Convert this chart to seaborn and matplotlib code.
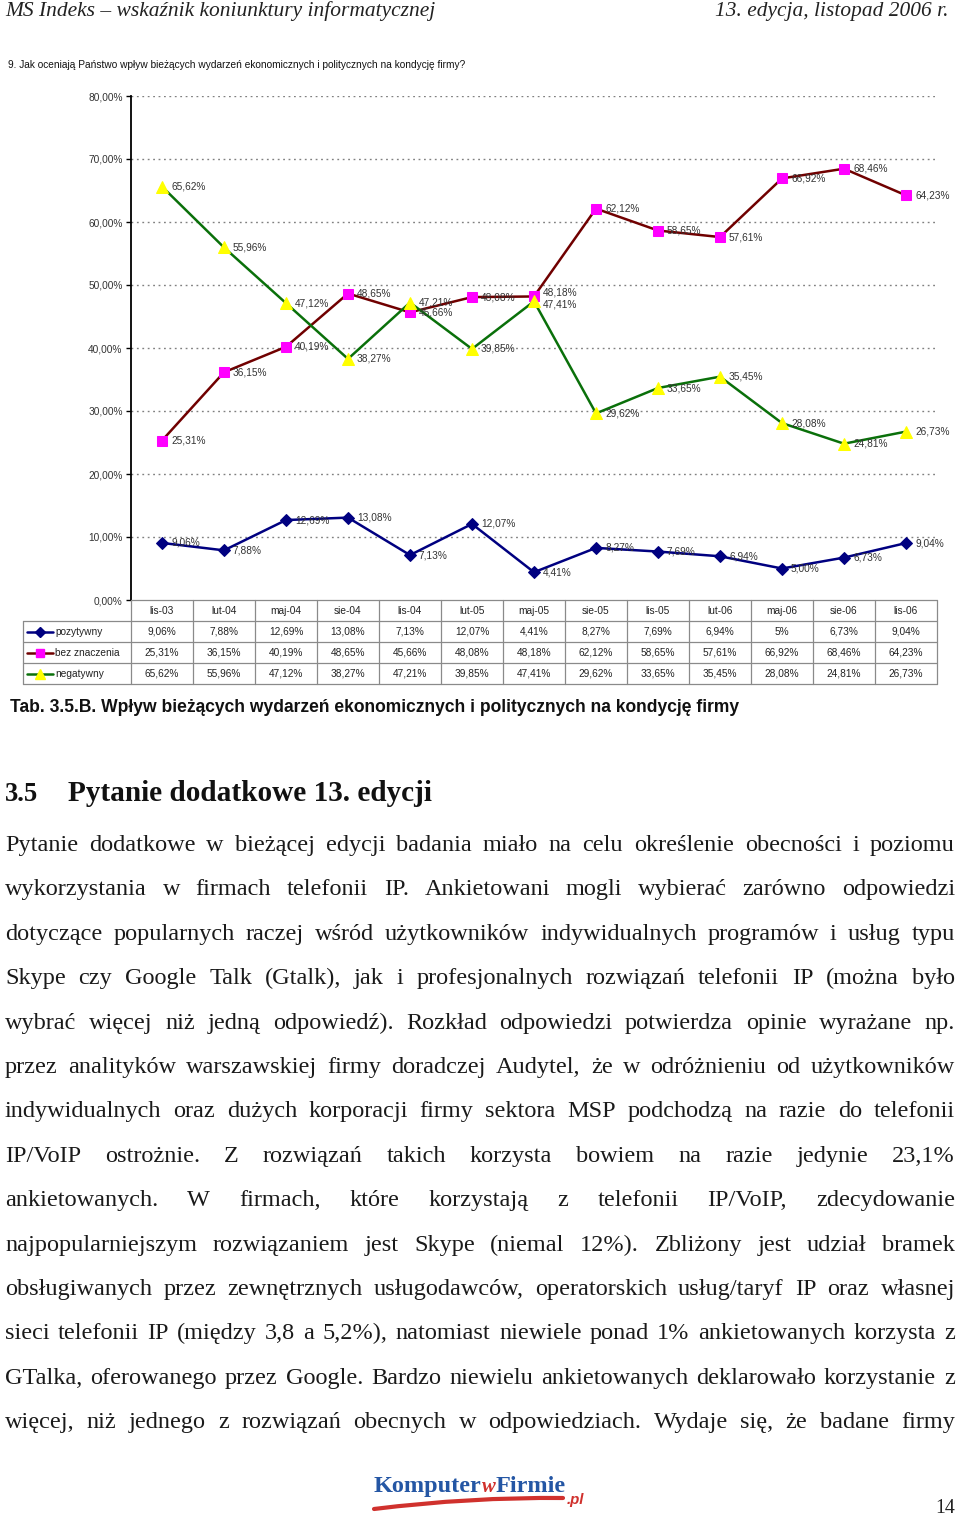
import matplotlib
matplotlib.use('Agg')
import matplotlib.pyplot as plt
import seaborn as sns
import numpy as np
import pandas as pd
from matplotlib.ticker import FixedLocator, FuncFormatter
from matplotlib.path import Path
from matplotlib.patches import PathPatch

# ---------------- data ----------------
categories = ['lis-03', 'lut-04', 'maj-04', 'sie-04', 'lis-04', 'lut-05', 'maj-05',
              'sie-05', 'lis-05', 'lut-06', 'maj-06', 'sie-06', 'lis-06']
pozytywny = [9.06, 7.88, 12.69, 13.08, 7.13, 12.07, 4.41, 8.27, 7.69, 6.94, 5.00, 6.73, 9.04]
bez_znaczenia = [25.31, 36.15, 40.19, 48.65, 45.66, 48.08, 48.18, 62.12, 58.65, 57.61, 66.92, 68.46, 64.23]
negatywny = [65.62, 55.96, 47.12, 38.27, 47.21, 39.85, 47.41, 29.62, 33.65, 35.45, 28.08, 24.81, 26.73]
series_names = ['pozytywny', 'bez znaczenia', 'negatywny']
y_ticks = [0, 10, 20, 30, 40, 50, 60, 70, 80]

header_left = 'MS Indeks – wskaźnik koniunktury informatycznej'
header_right = '13. edycja, listopad 2006 r.'
question = '9. Jak oceniają Państwo wpływ bieżących wydarzeń ekonomicznych i politycznych na kondycję firmy?'
caption = 'Tab. 3.5.B. Wpływ bieżących wydarzeń ekonomicznych i politycznych na kondycję firmy'
heading_num = '3.5'
heading_text = 'Pytanie dodatkowe 13. edycji'
body_lines = [
    'Pytanie dodatkowe w bieżącej edycji badania miało na celu określenie obecności i poziomu',
    'wykorzystania w firmach telefonii IP. Ankietowani mogli wybierać zarówno odpowiedzi',
    'dotyczące popularnych raczej wśród użytkowników indywidualnych programów i usług typu',
    'Skype czy Google Talk (Gtalk), jak i profesjonalnych rozwiązań telefonii IP (można było',
    'wybrać więcej niż jedną odpowiedź). Rozkład odpowiedzi potwierdza opinie wyrażane np.',
    'przez analityków warszawskiej firmy doradczej Audytel, że w odróżnieniu od użytkowników',
    'indywidualnych oraz dużych korporacji firmy sektora MSP podchodzą na razie do telefonii',
    'IP/VoIP ostrożnie. Z rozwiązań takich korzysta bowiem na razie jedynie 23,1%',
    'ankietowanych. W firmach, które korzystają z telefonii IP/VoIP, zdecydowanie',
    'najpopularniejszym rozwiązaniem jest Skype (niemal 12%). Zbliżony jest udział bramek',
    'obsługiwanych przez zewnętrznych usługodawców, operatorskich usług/taryf IP oraz własnej',
    'sieci telefonii IP (między 3,8 a 5,2%), natomiast niewiele ponad 1% ankietowanych korzysta z',
    'GTalka, oferowanego przez Google. Bardzo niewielu ankietowanych deklarowało korzystanie z',
    'więcej, niż jednego z rozwiązań obecnych w odpowiedziach. Wydaje się, że badane firmy',
]
logo_parts = ['Komputer', 'w', 'Firmie', '.pl']
page_number = '14'

# ---------------- setup ----------------
sns.set_theme(style='white')
plt.rcParams['font.family'] = ['Liberation Sans', 'DejaVu Sans']

W, H = 960, 1521
fig = plt.figure(figsize=(9.6, 15.21), dpi=100)
fig.patch.set_facecolor('white')
r = fig.canvas.get_renderer()


def fx(x):
    return x / W


def fy(y):
    return 1 - y / H


def fit_text(x0, x1, y, s, va='center', **kw):
    t = fig.text(fx(x0), fy(y), s, va=va, ha='left', fontsize=10, **kw)
    w = t.get_window_extent(r).width
    t.set_fontsize(10 * (x1 - x0) / w)
    return t


def fmt_label(v):
    return f'{v:.2f}'.replace('.', ',') + '%'


def fmt_table(v):
    if float(v).is_integer():
        return f'{int(v)}%'
    return f'{v:.2f}'.replace('.', ',') + '%'


# ---------------- header ----------------
serif = ['Liberation Serif', 'DejaVu Serif']
fit_text(5, 437, 16, header_left, va='baseline', family=serif, style='italic', color='#222222')
fit_text(715, 948, 16, header_right, va='baseline', family=serif, style='italic', color='#222222')

fit_text(8, 465, 65, question, color='#111111')

# ---------------- chart ----------------
ax = fig.add_axes([fx(131), fy(600), fx(937) - fx(131), (600 - 96) / H])
xpos = np.arange(len(categories))
styles = {
    'pozytywny': dict(color='#000080', marker='D', markersize=6, markerfacecolor='#000080',
                      markeredgecolor='#000080'),
    'bez znaczenia': dict(color='#700000', marker='s', markersize=7.5, markerfacecolor='#FF00FF',
                          markeredgecolor='#FF00FF'),
    'negatywny': dict(color='#0A700A', marker='^', markersize=8.5, markerfacecolor='#FFFF00',
                      markeredgecolor='#FFFF00'),
}
# small vertical nudges (points) for labels that sit on top of each other
nudges = {('bez znaczenia', 6): 2.5, ('negatywny', 6): -2.5}
all_series = [pozytywny, bez_znaczenia, negatywny]
for name, vals in zip(series_names, all_series):
    df = pd.DataFrame({'x': xpos, 'y': vals})
    sns.lineplot(data=df, x='x', y='y', ax=ax, linewidth=1.8, legend=False, **styles[name])
    for xi, v in zip(xpos, vals):
        dy = nudges.get((name, int(xi)), 0)
        ax.annotate(fmt_label(v), (xi, v), xytext=(6.5, dy), textcoords='offset points',
                    va='center', ha='left', fontsize=7.3, color='#333333', annotation_clip=False)

ax.set_xlim(-0.5, len(categories) - 0.5)
ax.set_ylim(0, 80)
ax.set_xticks([])
ax.set_xlabel('')
ax.set_ylabel('')
ax.yaxis.set_major_locator(FixedLocator(y_ticks))
ax.yaxis.set_major_formatter(FuncFormatter(lambda v, p: f'{v:.2f}'.replace('.', ',') + '%'))
ax.tick_params(axis='y', left=True, length=3.5, width=1, color='black', pad=2.5,
               labelsize=7.3, labelcolor='#333333')
for s in ['top', 'right', 'bottom']:
    ax.spines[s].set_visible(False)
ax.spines['left'].set_color('black')
ax.spines['left'].set_linewidth(1.3)
ax.yaxis.grid(True, color='#808080', linestyle=(0, (1.3, 2.6)), linewidth=1)
ax.set_axisbelow(True)
ax.yaxis.get_gridlines()[0].set_visible(False)
ax.patch.set_alpha(0)

# ---------------- data table ----------------
leg_w = 108 / 62
tax = fig.add_axes([fx(23), fy(684), fx(937) - fx(23), 84 / H])
x_left = -0.5 - leg_w
x_right = len(categories) - 0.5
tax.set_xlim(x_left, x_right)
tax.set_ylim(4, 0)
tax.axis('off')
gc = '#8a8a8a'
tax.plot([-0.5, x_right], [0, 0], color=gc, lw=0.9, clip_on=False)
for row in range(1, 5):
    tax.plot([x_left, x_right], [row, row], color=gc, lw=0.9, clip_on=False)
for k in range(len(categories) + 1):
    tax.plot([-0.5 + k, -0.5 + k], [0, 4], color=gc, lw=0.9, clip_on=False)
tax.plot([x_left, x_left], [1, 4], color=gc, lw=0.9, clip_on=False)

for i, c in enumerate(categories):
    tax.text(i, 0.5, c, ha='center', va='center', fontsize=7.3, color='#222222')


def px2u(px):
    return x_left + (px - 23) / 62


for ri, (name, vals) in enumerate(zip(series_names, all_series)):
    yrow = ri + 1.5
    st = styles[name]
    tax.plot([px2u(27), px2u(53)], [yrow, yrow], color=st['color'], lw=1.8, clip_on=False)
    tax.plot([px2u(40)], [yrow], marker=st['marker'], markersize=st['markersize'] * 0.8,
             markerfacecolor=st['markerfacecolor'], markeredgecolor=st['markeredgecolor'],
             linestyle='none', clip_on=False)
    tax.text(px2u(55), yrow, name, ha='left', va='center', fontsize=7.3, color='#222222')
    for i, v in enumerate(vals):
        tax.text(i, yrow, fmt_table(v), ha='center', va='center', fontsize=7.3, color='#222222')

# ---------------- caption & heading ----------------
fit_text(10, 743, 708, caption, family=['Liberation Sans Narrow', 'Liberation Sans'],
         fontweight='bold', color='#111111')
fit_text(5, 38, 801, heading_num, va='baseline', family=serif, fontweight='bold', color='#111111')
fit_text(68, 433, 801, heading_text, va='baseline', family=serif, fontweight='bold', color='#111111')

# ---------------- body text (justified) ----------------
body_fs = 18
nat = []
for line in body_lines:
    t = fig.text(0, 0, line, fontsize=body_fs, family=serif)
    nat.append(t.get_window_extent(r).width)
    t.remove()
body_fs = body_fs * min(1.0, 930 / max(nat))

for li, line in enumerate(body_lines):
    yb = 851 + li * 44.4
    words = line.split(' ')
    texts = [fig.text(0, 0, w, fontsize=body_fs, family=serif, color='#1a1a1a',
                      va='baseline', ha='left') for w in words]
    widths = [t.get_window_extent(r).width for t in texts]
    gap = (950 - sum(widths)) / (len(words) - 1)
    x = 5
    for t, w in zip(texts, widths):
        t.set_position((fx(x), fy(yb)))
        x += w + gap

# ---------------- footer logo ----------------
blue = '#2456A4'
red = '#D0312D'
logo_kw = [
    dict(family=serif, fontweight='bold', color=blue),
    dict(family=serif, fontweight='bold', style='italic', color=red),
    dict(family=serif, fontweight='bold', color=blue),
]
rel = [1.0, 0.85, 1.0]
logo_texts = [fig.text(0, fy(1492), p, va='baseline', ha='left', fontsize=10 * s, **kw)
              for p, s, kw in zip(logo_parts[:3], rel, logo_kw)]
tot = sum(t.get_window_extent(r).width for t in logo_texts)
scale = (566 - 374) / tot
x = 374
for t, s in zip(logo_texts, rel):
    t.set_fontsize(10 * s * scale)
    w = t.get_window_extent(r).width
    t.set_x(fx(x))
    x += w
fig.text(fx(x + 1), fy(1504), logo_parts[3], va='baseline', ha='left', fontsize=10 * scale * 0.62,
         family=['Liberation Sans', 'DejaVu Sans'], fontweight='bold', style='italic', color=red)
verts = [(fx(374), fy(1509)), (fx(470), fy(1497)), (fx(563), fy(1498))]
swoosh = PathPatch(Path(verts, [Path.MOVETO, Path.CURVE3, Path.CURVE3]), facecolor='none',
                   edgecolor=red, lw=3.0, capstyle='round', transform=fig.transFigure)
fig.patches.append(swoosh)

fit_text(935, 955, 1513, page_number, va='baseline', family=serif, color='#222222')

fig.savefig('out.png', dpi=100)
